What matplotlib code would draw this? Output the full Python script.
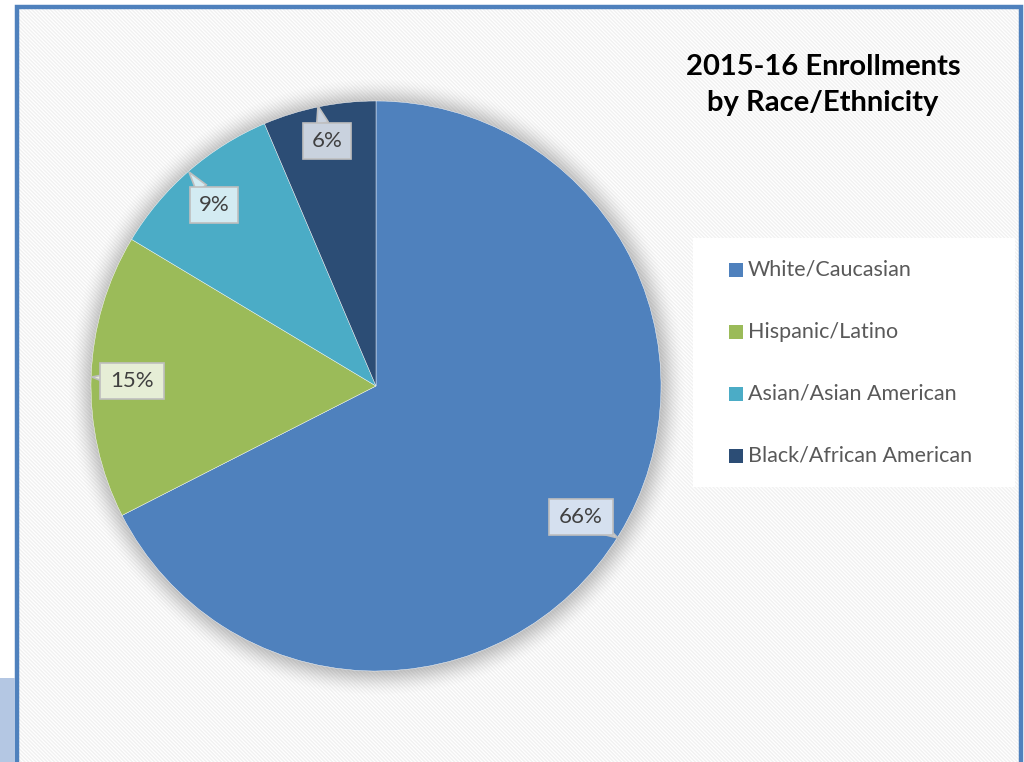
import numpy as np
import matplotlib
matplotlib.use("Agg")
import matplotlib.pyplot as plt
from matplotlib.patches import Rectangle, Circle, Polygon

######################################################
############ Data ####################################
######################################################
categories = ["White/Caucasian", "Hispanic/Latino", "Asian/Asian American", "Black/African American"]
shares = [67.5, 16.1, 10.0, 6.4]          # slice sizes
label_text = ["66%", "15%", "9%", "6%"]  # printed labels
colors = ["#4F81BD", "#9BBB59", "#4BACC6", "#2C4D75"]
box_colors = ["#D5E0EF", "#E6EED6", "#D3EBF2", "#C9D2DE"]
title = "2015-16 Enrollments\nby Race/Ethnicity"

W, H = 1024, 762
FONT = "Lato"
plt.rcParams["hatch.linewidth"] = 1.0

fig = plt.figure(figsize=(W / 100, H / 100), dpi=100)
ax = fig.add_axes([0, 0, 1, 1])

def Y(y):  # image row -> data y
    return H - y

# background with light diagonal stripes
ax.add_patch(Rectangle((0, 0), W, H, facecolor="white", edgecolor="none", zorder=0))
ax.add_patch(Rectangle((19, 0), 1000, Y(9), facecolor="white", edgecolor="#F1F1F1",
                       linewidth=0, hatch="\\" * 9, zorder=1))
# frame
ax.plot([17, 17, 1021, 1021], [0, Y(7), Y(7), 0], color="#4F81BD", lw=3.2,
        solid_joinstyle="miter", zorder=2)
ax.add_patch(Rectangle((0, 0), 15, Y(678), facecolor="#B4C7E3", edgecolor="none", zorder=2))

# pie + soft shadow
cx, cy, r = 376, Y(386), 285
for i in range(24, 0, -1):
    ax.add_patch(Circle((cx + 1, cy - 1), r + i, facecolor="#808080",
                        alpha=0.04 * (1 - i / 25), edgecolor="none", zorder=3))
wedges, _ = ax.pie(shares, colors=colors, startangle=90, counterclock=False,
                   center=(cx, cy), radius=r, frame=True,
                   wedgeprops=dict(edgecolor="#FFFFFF", linewidth=0.3))
for w in wedges:
    w.set_zorder(4)
ax.set_xlim(0, W)
ax.set_ylim(0, H)
ax.set_aspect("equal")
ax.axis("off")

# callout labels: (box centre, tail tip) in image pixels
label_pos = [(581, 517), (132, 381), (214, 205), (327, 141)]
tail_tip = [(618, 538), (92, 377), (189, 172), (318, 106)]
for (bx, by), (tx, ty), txt, fc in zip(label_pos, tail_tip, label_text, box_colors):
    hw = 8 + 8 * len(txt)
    hh = 18
    bxd, byd = bx, Y(by)
    txd, tyd = tx, Y(ty)
    ang = np.arctan2(tyd - byd, txd - bxd)
    perp = np.array([-np.sin(ang), np.cos(ang)]) * 6
    base = np.array([bxd + (txd - bxd) * 0.5, byd + (tyd - byd) * 0.5])
    ax.add_patch(Polygon([base + perp, (txd, tyd), base - perp], closed=True,
                         facecolor=fc, edgecolor="#BFBFBF", lw=1.2, zorder=5))
    ax.add_patch(Rectangle((bxd - hw, byd - hh), 2 * hw, 2 * hh, facecolor=fc,
                           edgecolor="#BFBFBF", lw=1.2, zorder=6))
    ax.text(bxd, byd, txt, ha="center", va="center", fontsize=16,
            family=FONT, color="#404040", zorder=7)

# title
ax.text(823, Y(85), title, ha="center", va="center", fontsize=21, fontweight="bold",
        family=FONT, color="black", linespacing=1.45, zorder=7)

# legend
ax.add_patch(Rectangle((693, Y(487)), 322, 249, facecolor="white", edgecolor="none", zorder=6))
for i, (cat, c) in enumerate(zip(categories, colors)):
    yy = Y(270 + 62 * i)
    ax.add_patch(Rectangle((729, yy - 7), 14, 14, facecolor=c, edgecolor="none", zorder=7))
    ax.text(748, yy, cat, ha="left", va="center", fontsize=15.5, family=FONT,
            color="#595959", zorder=7)

fig.savefig("out.png", dpi=100)
